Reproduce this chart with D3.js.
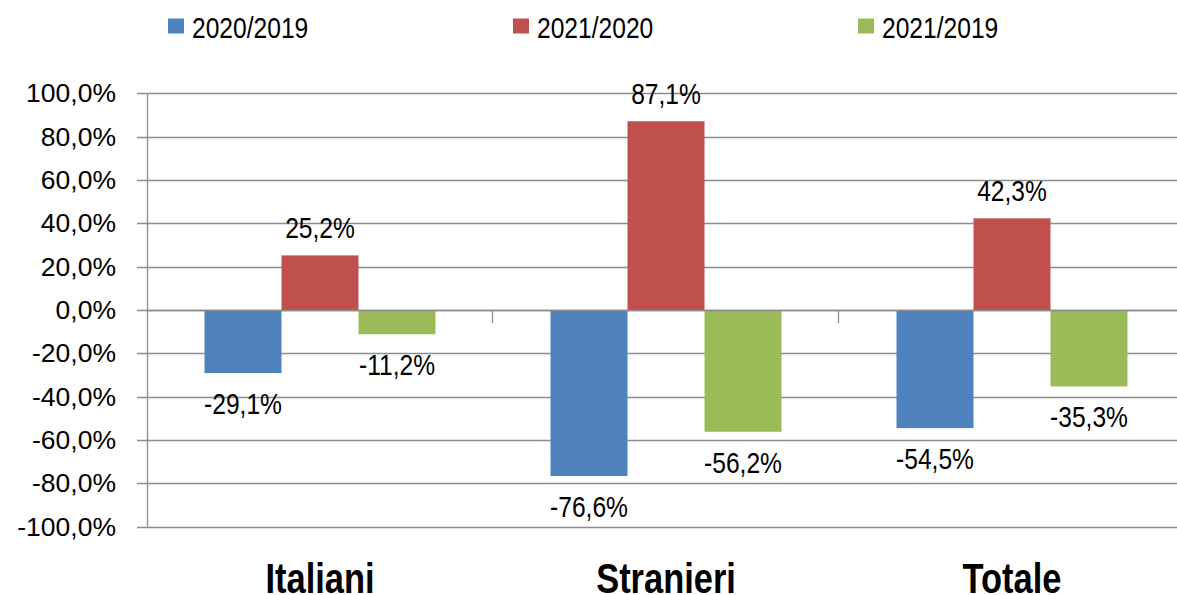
<!DOCTYPE html>
<html>
<head>
<meta charset="utf-8">
<script src="https://cdn.jsdelivr.net/npm/d3@7"></script>
<style>
  body { margin: 0; background: #fff; }
  text { font-family: "Liberation Sans Narrow", "Arial Narrow", "Liberation Sans", Arial, sans-serif; fill: #000; }
</style>
</head>
<body>
<div id="chart"></div>
<script>
// categories and series
const categories = ["Italiani", "Stranieri", "Totale"];
const seriesNames = ["2020/2019", "2021/2020", "2021/2019"];
const seriesColors = ["#4F81BD", "#C0504D", "#9BBB59"];

// values per series, in category order
const v2020on2019 = [-29.1, -76.6, -54.5];
const v2021on2020 = [25.2, 87.1, 42.3];
const v2021on2019 = [-11.2, -56.2, -35.3];

const yTicks = [-100, -80, -60, -40, -20, 0, 20, 40, 60, 80, 100];

const W = 1177, H = 595;
const plotLeft = 147, bandStep = 346;
const groupWidth = 231;
const narrow = 0.82;  // no Arial Narrow installed, so squeeze Liberation Sans

const seriesValues = [v2020on2019, v2021on2020, v2021on2019];
const data = [];
categories.forEach((c, i) => {
    seriesNames.forEach((s, j) => {
        data.push({ cat: c, series: s, value: seriesValues[j][i], color: seriesColors[j] });
    });
});

// italian style: comma decimal, plain hyphen for minus
const fmt = v => d3.format(".1f")(v).replace(".", ",").replace("\u2212", "-") + "%";

const svg = d3.select("#chart").append("svg")
    .attr("width", W)
    .attr("height", H);

// scales
const x0 = d3.scaleBand()
    .domain(categories)
    .range([plotLeft, plotLeft + bandStep * categories.length])
    .padding(0);

const x1 = d3.scaleBand()
    .domain(seriesNames)
    .range([0, groupWidth])
    .padding(0);

const y = d3.scaleLinear()
    .domain([-100, 100])
    .range([526.7, 93.3]);

// gridlines
svg.append("g")
    .selectAll("line")
    .data(yTicks)
    .enter()
    .append("line")
    .attr("x1", plotLeft - 10)
    .attr("x2", W)
    .attr("y1", d => Math.round(y(d)) + 0.5)
    .attr("y2", d => Math.round(y(d)) + 0.5)
    .attr("stroke", "#8c8c8c")
    .attr("stroke-width", 1.3);

// y tick labels
svg.append("g")
    .selectAll("text")
    .data(yTicks)
    .enter()
    .append("text")
    .attr("x", 116)
    .attr("y", d => y(d) + 9)
    .attr("text-anchor", "end")
    .style("font-family", "'Liberation Sans', Arial, sans-serif")
    .style("font-size", "26.5px")
    .text(d => fmt(d));

// bars
const offset = (bandStep - groupWidth) / 2;
svg.append("g")
    .selectAll("rect")
    .data(data)
    .enter()
    .append("rect")
    .attr("x", d => x0(d.cat) + offset + x1(d.series))
    .attr("y", d => y(Math.max(0, d.value)))
    .attr("width", x1.bandwidth())
    .attr("height", d => Math.abs(y(d.value) - y(0)))
    .attr("fill", d => d.color);

// vertical axis line
svg.append("line")
    .attr("x1", plotLeft + 0.5)
    .attr("x2", plotLeft + 0.5)
    .attr("y1", y(100))
    .attr("y2", y(-100))
    .attr("stroke", "#8c8c8c")
    .attr("stroke-width", 1.3);

// zero line redrawn over bars
svg.append("line")
    .attr("x1", plotLeft)
    .attr("x2", W)
    .attr("y1", Math.round(y(0)) + 0.5)
    .attr("y2", Math.round(y(0)) + 0.5)
    .attr("stroke", "#8c8c8c")
    .attr("stroke-width", 1.3);

// category boundary tick marks on the zero line
svg.append("g")
    .selectAll("line")
    .data(categories.slice(1))
    .enter()
    .append("line")
    .attr("x1", d => x0(d) - 0.5)
    .attr("x2", d => x0(d) - 0.5)
    .attr("y1", y(0))
    .attr("y2", y(0) + 13)
    .attr("stroke", "#8c8c8c")
    .attr("stroke-width", 1.3);

// data labels
svg.append("g")
    .selectAll("text")
    .data(data)
    .enter()
    .append("text")
    .attr("transform", d => {
        const cx = x0(d.cat) + offset + x1(d.series) + x1.bandwidth() / 2;
        const ty = d.value >= 0 ? y(d.value) - 17 : y(d.value) + 41;
        return `translate(${cx}, ${ty}) scale(${narrow}, 1)`;
    })
    .attr("text-anchor", "middle")
    .style("font-size", "30px")
    .text(d => fmt(d.value));

// category labels
svg.append("g")
    .selectAll("text")
    .data(categories)
    .enter()
    .append("text")
    .attr("transform", d => `translate(${x0(d) + bandStep / 2}, 593) scale(${narrow}, 1)`)
    .attr("text-anchor", "middle")
    .style("font-size", "42px")
    .style("font-weight", "bold")
    .text(d => d);

// legend
const legendX = [168, 513, 858];
const legend = svg.append("g");
seriesNames.forEach((s, i) => {
    legend.append("rect")
        .attr("x", legendX[i])
        .attr("y", 18.5)
        .attr("width", 16)
        .attr("height", 15)
        .attr("fill", seriesColors[i]);
    legend.append("text")
        .attr("transform", `translate(${legendX[i] + 24}, 38)  scale(${narrow}, 1)`)
        .style("font-size", "30px")
        .text(s);
});
</script>
</body>
</html>
